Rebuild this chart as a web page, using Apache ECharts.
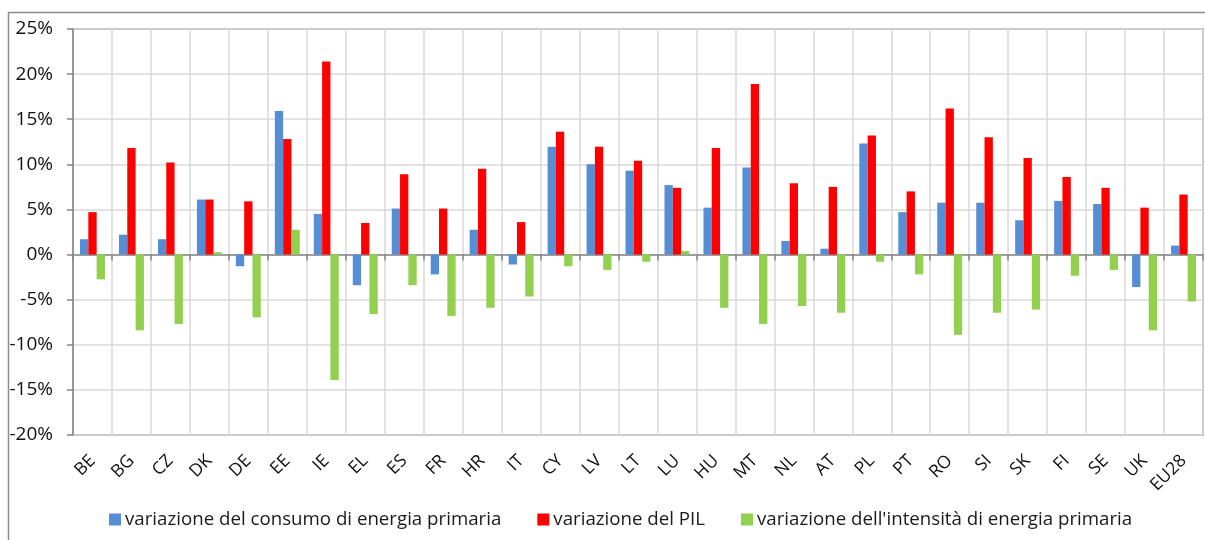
<!DOCTYPE html>
<html>
<head>
<meta charset="utf-8">
<script src="https://cdn.jsdelivr.net/npm/echarts@6/dist/echarts.min.js"></script>
<style>html,body{margin:0;padding:0;background:#fff}#c{width:1205px;height:540px}</style>
</head>
<body>
<div id="c"></div>
<script>
const categories = ['BE','BG','CZ','DK','DE','EE','IE','EL','ES','FR','HR','IT','CY','LV','LT','LU','HU','MT','NL','AT','PL','PT','RO','SI','SK','FI','SE','UK','EU28'];
const consumo = [1.7,2.2,1.7,6.1,-1.3,15.9,4.5,-3.4,5.1,-2.2,2.75,-1.1,11.95,10.0,9.3,7.7,5.2,9.65,1.5,0.65,12.3,4.7,5.75,5.75,3.8,5.95,5.6,-3.6,1.0];
const pil = [4.7,11.8,10.2,6.1,5.9,12.8,21.4,3.5,8.9,5.1,9.5,3.6,13.6,11.95,10.4,7.4,11.8,18.9,7.9,7.5,13.2,7.0,16.2,13.0,10.7,8.6,7.4,5.2,6.65];
const intensita = [-2.75,-8.4,-7.7,0.27,-6.95,2.75,-13.9,-6.6,-3.4,-6.8,-5.9,-4.65,-1.3,-1.7,-0.8,0.38,-5.9,-7.7,-5.7,-6.45,-0.8,-2.2,-8.9,-6.45,-6.1,-2.35,-1.7,-8.4,-5.2];
const seriesNames = ['variazione del consumo di energia primaria','variazione del PIL',"variazione dell'intensità di energia primaria"];
const colors = ['#558ED5','#FF0000','#92D050'];

const chart = echarts.init(document.getElementById('c'));
const font = '"Open Sans", sans-serif';
chart.setOption({
  animation: false,
  color: colors,
  graphic: [{type:'rect', shape:{x:8.5,y:12.5,width:1300,height:600}, style:{fill:null, stroke:'#8c8c8c', lineWidth:1.5}, z:-10}],
  grid: {left:73, right:2, top:29, bottom:105, show:true, borderColor:'#868686', borderWidth:1.5, backgroundColor:'transparent'},
  legend: {
    left:104, top:505, itemWidth:12, itemHeight:12, itemGap:36,
    icon:'rect',
    textStyle:{fontFamily:font, fontSize:18.7, color:'#1a1a1a', padding:[0,0,0,-1]},
    data: seriesNames
  },
  xAxis: [{
    type:'category', data:categories, position:'bottom',
    axisLine:{show:false, onZero:false},
    axisTick:{show:false},
    splitLine:{show:true, interval:0, lineStyle:{color:'#d9d9d9', width:1.5}},
    axisLabel:{interval:0, rotate:45, margin:23, fontFamily:font, fontSize:17.5, color:'#111'}
  },{
    type:'category', data:categories, position:'bottom',
    axisLine:{show:true, onZero:true, lineStyle:{color:'#868686', width:1.5}},
    axisTick:{show:true, interval:0, length:6, lineStyle:{color:'#868686', width:1.5}},
    axisLabel:{show:false},
    splitLine:{show:false}
  }],
  yAxis: {
    type:'value', min:-20, max:25, interval:5,
    axisLine:{show:true, lineStyle:{color:'#868686', width:1.5}},
    axisTick:{show:true, length:6, lineStyle:{color:'#868686', width:1.5}},
    splitLine:{show:true, lineStyle:{color:'#d9d9d9', width:1.5}},
    axisLabel:{formatter:'{value}%', margin:20, fontFamily:font, fontSize:19, color:'#111'}
  },
  series: [
    {name:seriesNames[0], type:'bar', data:consumo, barGap:'0%', barCategoryGap:'36%'},
    {name:seriesNames[1], type:'bar', data:pil, barGap:'0%', barCategoryGap:'36%'},
    {name:seriesNames[2], type:'bar', data:intensita, barGap:'0%', barCategoryGap:'36%'}
  ]
});
</script>
</body>
</html>
